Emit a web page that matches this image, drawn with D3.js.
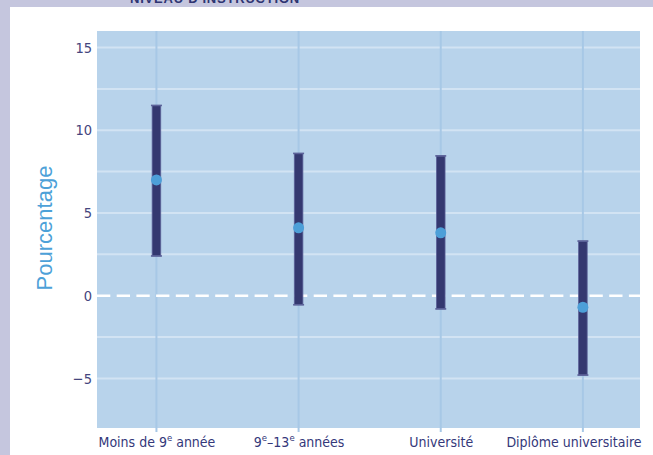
<!DOCTYPE html>
<html><head><meta charset="utf-8">
<script src="https://cdn.jsdelivr.net/npm/d3@7/dist/d3.min.js"></script>
<style>
html,body{margin:0;padding:0;background:#c5c6de;}
svg{display:block;}
</style></head><body>
<svg id="chart" width="653" height="455"></svg>
<script>
const categories = ["Moins de 9e année", "9e–13e années", "Université", "Diplôme universitaire"];
const estimates = [7.0, 4.1, 3.8, -0.7];
const lowerCI = [2.4, -0.55, -0.8, -4.8];
const upperCI = [11.5, 8.6, 8.45, 3.3];
const yTicks = [-5, 0, 5, 10, 15];
const yGrid = [-5, -2.5, 2.5, 5, 7.5, 10, 12.5, 15];
const yDomain = [-8, 16];

const svg = d3.select("#chart");
const W = 653, H = 455;
const font = "'Liberation Sans Narrow','Arial Narrow','DejaVu Sans Condensed',sans-serif";

// background
svg.append("rect").attr("x",0).attr("y",0).attr("width",W).attr("height",H).attr("fill","#c5c6de");
svg.append("text").attr("x",130).attr("y",3).attr("font-family","'Liberation Sans',Arial,sans-serif")
  .attr("font-weight","bold").attr("font-size",13).attr("fill","#2e3472").attr("letter-spacing",0.8)
  .text("NIVEAU D'INSTRUCTION");
svg.append("rect").attr("x",10).attr("y",7).attr("width",W-10).attr("height",H-7).attr("fill","#ffffff");

const L = 97, R = 640, T = 31, B = 428;
const x = d3.scalePoint().domain(categories).range([L, R]).padding(0.41).align(0.51);
const y = d3.scaleLinear().domain(yDomain).range([B, T]);

svg.append("rect").attr("x",L).attr("y",T).attr("width",R-L).attr("height",B-T).attr("fill","#b8d3eb");

// horizontal grid
svg.append("g").selectAll("line").data(yGrid).join("line")
  .attr("x1",L).attr("x2",R).attr("y1",d=>y(d)).attr("y2",d=>y(d))
  .attr("stroke","#d2e3f3").attr("stroke-width",2);

// vertical grid + ticks
svg.append("g").selectAll("line").data(categories).join("line")
  .attr("x1",d=>x(d)).attr("x2",d=>x(d)).attr("y1",T).attr("y2",B+4)
  .attr("stroke","#a7c8e6").attr("stroke-width",2);

// zero line
svg.append("line").attr("x1",L).attr("x2",R).attr("y1",y(0)).attr("y2",y(0))
  .attr("stroke","#ffffff").attr("stroke-width",2.5).attr("stroke-dasharray","13.3,6.4");

// y axis labels
const yAxis = d3.axisLeft(y).tickValues(yTicks).tickSize(0).tickPadding(5)
  .tickFormat(d => d < 0 ? "\u2212" + Math.abs(d) : String(d));
const ga = svg.append("g").attr("transform",`translate(${L},0)`).call(yAxis);
ga.select(".domain").remove();
ga.selectAll("text").attr("font-family",font).attr("font-size",14.5).attr("fill","#44467e");

// x axis labels
const gx = svg.append("g").attr("transform",`translate(0,${B})`).call(d3.axisBottom(x).tickSize(0).tickPadding(0));
gx.select(".domain").remove();
gx.selectAll(".tick text").each(function(d, i){
  const t = d3.select(this);
  t.text(null).attr("font-family",font).attr("font-size",14).attr("fill","#34387a").attr("dy",null).attr("y",19);
  if (i === categories.length - 1) t.attr("text-anchor","end").attr("x", R + 1 - x(d));
  const parts = [];
  let re = /(\d+)e/g, last = 0, mm;
  while((mm = re.exec(d))){ parts.push({t:d.slice(last, mm.index)+mm[1], s:false}); parts.push({t:"e", s:true}); last = mm.index+mm[0].length; }
  parts.push({t:d.slice(last), s:false});
  parts.forEach((p,k)=>{
    if(!p.t) return;
    const ts = t.append("tspan").text(p.t);
    if(p.s) ts.attr("font-size",9.5).attr("dy",-6);
    else if(k>0 && parts[k-1].s) ts.attr("dy",6);
  });
});

// y title
svg.append("text").attr("transform",`translate(52,228) rotate(-90)`).attr("text-anchor","middle")
  .attr("font-family","'Liberation Sans',Arial,sans-serif").attr("font-size",22).attr("fill","#4da1d8")
  .text("Pourcentage");

// error bars
const bars = svg.append("g");
bars.selectAll("rect.bar").data(categories).join("rect").attr("class","bar")
  .attr("x",d=>x(d)-4.3).attr("width",8.6)
  .attr("y",(d,i)=>y(upperCI[i])).attr("height",(d,i)=>y(lowerCI[i])-y(upperCI[i]))
  .attr("fill","#343870").attr("stroke","#5c6299").attr("stroke-width",0.8);
bars.selectAll("line.capU").data(categories).join("line").attr("class","capU")
  .attr("x1",d=>x(d)-5.5).attr("x2",d=>x(d)+5.5)
  .attr("y1",(d,i)=>y(upperCI[i])).attr("y2",(d,i)=>y(upperCI[i]))
  .attr("stroke","#5c6299").attr("stroke-width",1.6);
bars.selectAll("line.capL").data(categories).join("line").attr("class","capL")
  .attr("x1",d=>x(d)-5.5).attr("x2",d=>x(d)+5.5)
  .attr("y1",(d,i)=>y(lowerCI[i])).attr("y2",(d,i)=>y(lowerCI[i]))
  .attr("stroke","#5c6299").attr("stroke-width",1.6);

// points
svg.append("g").selectAll("circle").data(categories).join("circle")
  .attr("cx",d=>x(d)).attr("cy",(d,i)=>y(estimates[i])).attr("r",5.5)
  .attr("fill","#4d9fd8");
</script>
</body></html>
